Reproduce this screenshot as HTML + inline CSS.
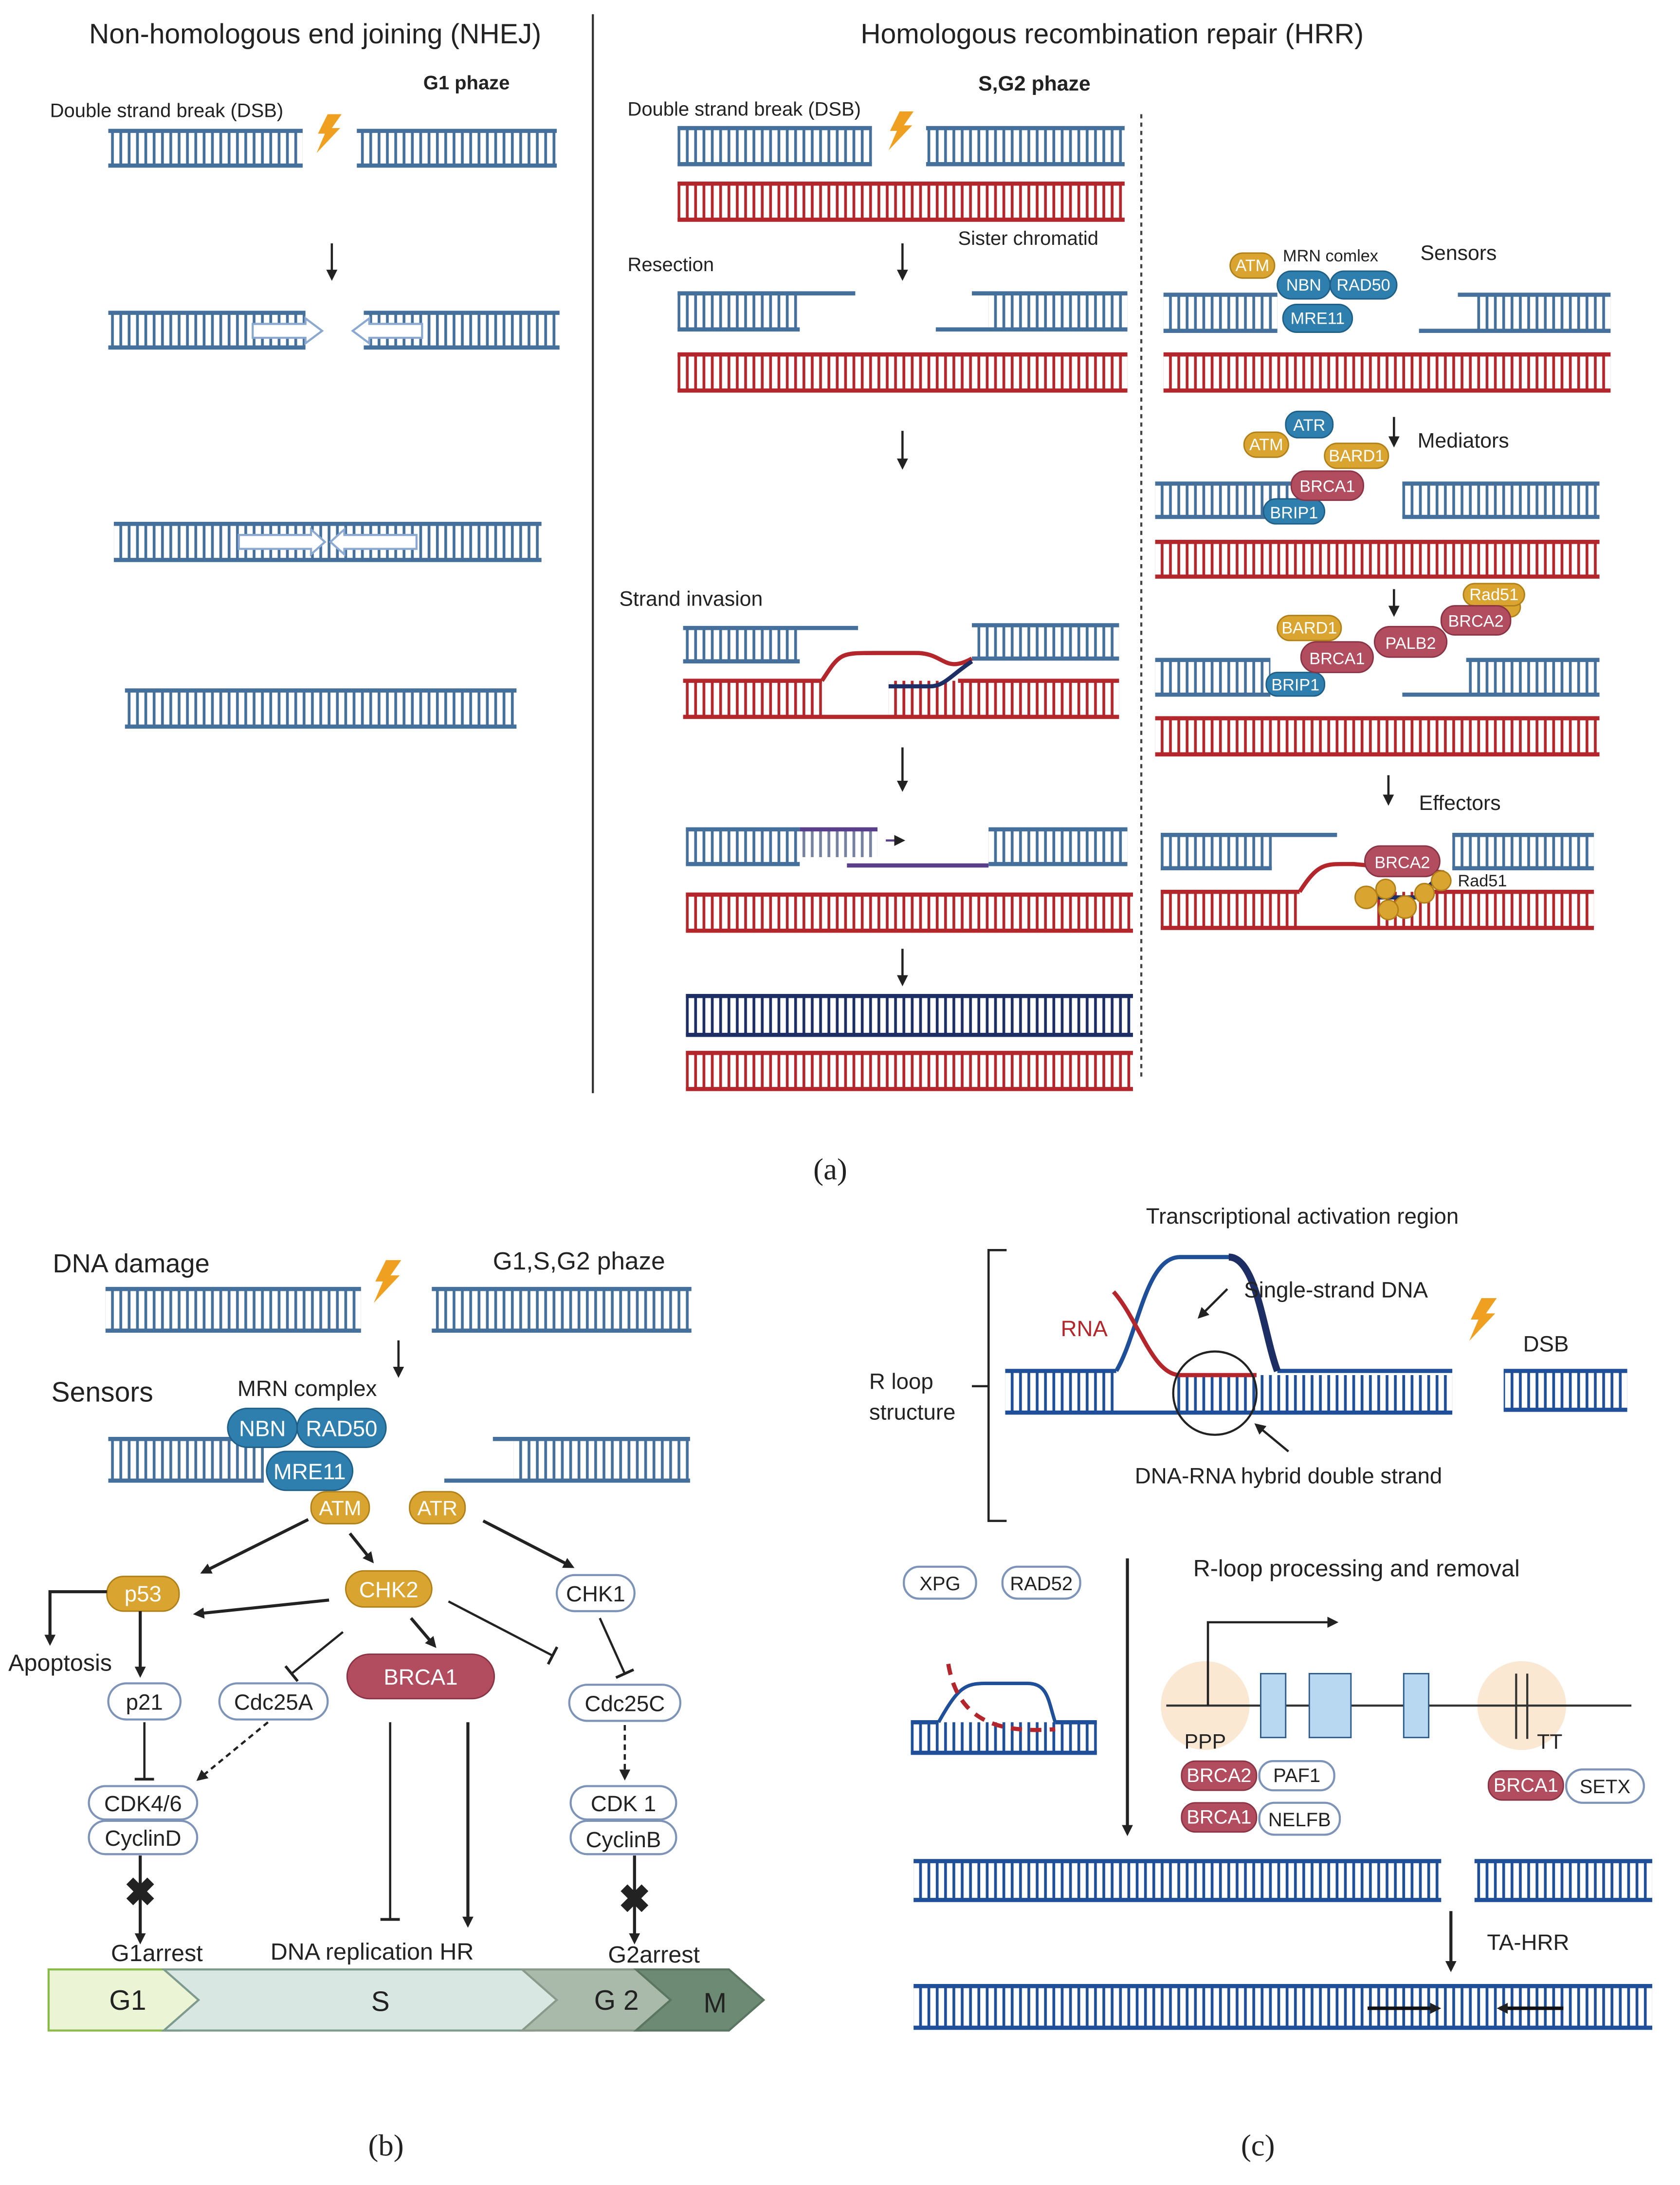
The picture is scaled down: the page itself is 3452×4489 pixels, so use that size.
<!DOCTYPE html>
<html><head><meta charset="utf-8"><style>
html,body{margin:0;padding:0;background:#fff}
svg{display:block}
text{font-family:"Liberation Sans",sans-serif;fill:#222}
.b rect{fill:url(#pb)} .b path{stroke:#46709c;stroke-width:3;fill:none}
.r rect{fill:url(#pr)} .r path{stroke:#b3262b;stroke-width:3;fill:none}
.n rect{fill:url(#pn)} .n path{stroke:#1c2e63;stroke-width:3;fill:none}
.c rect{fill:url(#pc)} .c path{stroke:#1f4f99;stroke-width:3;fill:none}
.ar{stroke:#222;stroke-width:1.6;fill:none;marker-end:url(#ah)}
.ar2{stroke:#222;stroke-width:2.2;fill:none;marker-end:url(#ah)}
.gd rect{fill:#d9a530;stroke:#b07f18} .gd text{fill:#fff}
.bl rect{fill:#2f7fae;stroke:#1e5f88} .bl text{fill:#fff}
.pk rect{fill:#b24c5f;stroke:#8a3344} .pk text{fill:#fff}
.wh rect{fill:#fff;stroke:#7d93b8;stroke-width:1.5} .wh text{fill:#222}
</style></head><body>
<svg width="3452" height="4489" viewBox="0 0 1210 1573" xmlns="http://www.w3.org/2000/svg">
<defs>
<pattern id="pb" width="6" height="200" patternUnits="userSpaceOnUse"><rect x="2" y="0" width="2" height="200" fill="#46709c"/></pattern>
<pattern id="pr" width="6" height="200" patternUnits="userSpaceOnUse"><rect x="2" y="0" width="2" height="200" fill="#b3262b"/></pattern>
<pattern id="pn" width="6" height="200" patternUnits="userSpaceOnUse"><rect x="2" y="0" width="2" height="200" fill="#1c2e63"/></pattern>
<pattern id="pc" width="6" height="200" patternUnits="userSpaceOnUse"><rect x="2" y="0" width="2" height="200" fill="#1f4f99"/></pattern>
<marker id="ah" markerWidth="8" markerHeight="8" refX="6" refY="4" orient="auto" markerUnits="userSpaceOnUse"><path d="M0,0 L8,4 L0,8 z" fill="#222"/></marker>
<marker id="tb" markerWidth="2" markerHeight="14" refX="1" refY="7" orient="auto" markerUnits="userSpaceOnUse"><rect x="0" y="0" width="2" height="14" fill="#222"/></marker>
<g id="bolt"><path d="M8,0 L18,0 L11,10 L17,10 L0,28 L6,14 L1,14 z" fill="#f0a020"/></g>
</defs>

<!-- ===== (a) NHEJ ===== -->
<text x="227" y="31" font-size="20" text-anchor="middle">Non-homologous end joining (NHEJ)</text>
<line x1="427" y1="10" x2="427" y2="787" stroke="#333" stroke-width="1.5"/>
<text x="336" y="64" font-size="14" font-weight="bold" text-anchor="middle">G1 phaze</text>
<text x="36" y="84" font-size="14">Double strand break (DSB)</text>
<g class="b"><rect x="78" y="94" width="140" height="25"/><path d="M78,94h140M78,119h140"/></g>
<g class="b"><rect x="257" y="94" width="144" height="25"/><path d="M257,94h144M257,119h144"/></g>
<use href="#bolt" x="228" y="82"/>
<line class="ar" x1="239" y1="175" x2="239" y2="200"/>
<g class="b"><rect x="78" y="225" width="142" height="25"/><path d="M78,225h142M78,250h142"/></g>
<g class="b"><rect x="262" y="225" width="141" height="25"/><path d="M262,225h141M262,250h141"/></g>
<path d="M182,233h38v-4l12,9l-12,9v-4h-38z" fill="#fff" stroke="#8aa8d0" stroke-width="1.5"/>
<path d="M304,233h-38v-4l-12,9l12,9v-4h38z" fill="#fff" stroke="#8aa8d0" stroke-width="1.5"/>
<g class="b"><rect x="82" y="377" width="308" height="26"/><path d="M82,377h308M82,403h308"/></g>
<path d="M172,385h52v-4l10,9l-10,9v-4h-52z" fill="#fff" stroke="#8aa8d0" stroke-width="1.5"/>
<path d="M300,385h-52v-4l-10,9l10,9v-4h52z" fill="#fff" stroke="#8aa8d0" stroke-width="1.5"/>
<g class="b"><rect x="90" y="497" width="282" height="26"/><path d="M90,497h282M90,523h282"/></g>

<!-- ===== (a) HRR ===== -->
<text x="801" y="31" font-size="20" text-anchor="middle">Homologous recombination repair (HRR)</text>
<text x="745" y="65" font-size="15" font-weight="bold" text-anchor="middle">S,G2 phaze</text>
<text x="452" y="83" font-size="14">Double strand break (DSB)</text>
<g class="b"><rect x="488" y="92" width="140" height="26"/><path d="M488,92h140M488,118h140"/></g>
<g class="b"><rect x="667" y="92" width="143" height="26"/><path d="M667,92h143M667,118h143"/></g>
<use href="#bolt" x="640" y="80"/>
<g class="r"><rect x="488" y="132" width="322" height="26"/><path d="M488,132h322M488,158h322"/></g>
<text x="690" y="176" font-size="14">Sister chromatid</text>
<line class="ar" x1="650" y1="175" x2="650" y2="200"/>
<text x="452" y="195" font-size="14">Resection</text>
<g class="b"><rect x="488" y="211" width="88" height="26"/><path d="M488,211h128M488,237h88"/></g>
<g class="b"><rect x="712" y="211" width="100" height="26"/><path d="M700,211h112M674,237h138"/></g>
<g class="r"><rect x="488" y="255" width="324" height="26"/><path d="M488,255h324M488,281h324"/></g>
<line class="ar" x1="650" y1="310" x2="650" y2="336"/>
<text x="446" y="436" font-size="15">Strand invasion</text>
<g class="b"><rect x="492" y="452" width="84" height="24"/><path d="M492,452h126M492,476h84"/></g>
<g class="b"><rect x="704" y="450" width="102" height="24"/><path d="M700,450h106M700,474h106"/></g>
<g class="r"><rect x="492" y="490" width="100" height="26"/><path d="M492,490h100M492,516h314"/></g>
<g class="r"><rect x="640" y="490" width="166" height="26"/><path d="M690,490h116"/></g>
<path d="M592,490 C605,470 605,470 630,470 L660,470 C680,470 680,485 700,474" stroke="#b3262b" stroke-width="3" fill="none"/>
<path d="M640,494 h30 c10,0 15,-8 30,-18" stroke="#1c2e63" stroke-width="3" fill="none"/>
<line class="ar" x1="650" y1="538" x2="650" y2="568"/>
<g class="b"><rect x="494" y="597" width="82" height="25"/><path d="M494,597h82M494,622h82"/></g>
<g><rect x="576" y="597" width="56" height="20" fill="url(#pn)" opacity="0.6"/><path d="M576,597h56" stroke="#5a3f8a" stroke-width="3"/></g>
<path d="M638,605h12" stroke="#5a3f8a" stroke-width="1.5" marker-end="url(#ah)"/>
<path d="M610,623h102" stroke="#5a3f8a" stroke-width="3"/>
<g class="b"><rect x="712" y="597" width="100" height="25"/><path d="M712,597h100M712,622h100"/></g>
<g class="r"><rect x="494" y="644" width="322" height="26"/><path d="M494,644h322M494,670h322"/></g>
<line class="ar" x1="650" y1="683" x2="650" y2="708"/>
<g class="n"><rect x="494" y="717" width="322" height="28"/><path d="M494,717h322M494,745h322"/></g>
<g class="r"><rect x="494" y="758" width="322" height="26"/><path d="M494,758h322M494,784h322"/></g>
<line x1="822" y1="82" x2="822" y2="775" stroke="#444" stroke-width="1.5" stroke-dasharray="3,3"/>

<!-- right column -->
<text x="1023" y="187" font-size="15">Sensors</text>
<text x="924" y="188" font-size="12">MRN comlex</text>
<g class="b"><rect x="838" y="212" width="82" height="26"/><path d="M838,212h82M838,238h82"/></g>
<g class="b"><rect x="1062" y="212" width="98" height="26"/><path d="M1050,212h110M1022,238h138"/></g>
<g class="r"><rect x="838" y="255" width="322" height="26"/><path d="M838,255h322M838,281h322"/></g>
<g class="gd"><rect x="886" y="182" width="32" height="18" rx="9"/><text x="902" y="195" font-size="12" text-anchor="middle">ATM</text></g>
<g class="bl"><rect x="920" y="195" width="38" height="20" rx="10"/><text x="939" y="209" font-size="12" text-anchor="middle">NBN</text></g>
<g class="bl"><rect x="958" y="195" width="48" height="20" rx="10"/><text x="982" y="209" font-size="12" text-anchor="middle">RAD50</text></g>
<g class="bl"><rect x="924" y="219" width="50" height="20" rx="10"/><text x="949" y="233" font-size="12" text-anchor="middle">MRE11</text></g>

<line class="ar" x1="1004" y1="300" x2="1004" y2="320"/>
<text x="1021" y="322" font-size="15">Mediators</text>
<g class="b"><rect x="832" y="348" width="98" height="24"/><path d="M832,348h98M832,372h98"/></g>
<g class="b"><rect x="1010" y="348" width="142" height="24"/><path d="M1010,348h142M1010,372h142"/></g>
<g class="r"><rect x="832" y="390" width="320" height="25"/><path d="M832,390h320M832,415h320"/></g>
<g class="bl"><rect x="926" y="296" width="34" height="19" rx="9"/><text x="943" y="310" font-size="12" text-anchor="middle">ATR</text></g>
<g class="gd"><rect x="896" y="311" width="32" height="18" rx="9"/><text x="912" y="324" font-size="12" text-anchor="middle">ATM</text></g>
<g class="gd"><rect x="954" y="319" width="46" height="18" rx="9"/><text x="977" y="332" font-size="12" text-anchor="middle">BARD1</text></g>
<g class="bl"><rect x="910" y="359" width="44" height="18" rx="9"/><text x="932" y="373" font-size="12" text-anchor="middle">BRIP1</text></g>
<g class="pk"><rect x="930" y="339" width="52" height="21" rx="10"/><text x="956" y="354" font-size="12" text-anchor="middle">BRCA1</text></g>

<line class="ar" x1="1004" y1="424" x2="1004" y2="442"/>
<g class="b"><rect x="832" y="475" width="83" height="25"/><path d="M832,475h83M832,500h83"/></g>
<g class="b"><rect x="1056" y="475" width="96" height="25"/><path d="M1056,475h96M1010,500h142"/></g>
<g class="r"><rect x="832" y="517" width="320" height="26"/><path d="M832,517h320M832,543h320"/></g>
<circle cx="1088" cy="437" r="7" fill="#d9a530" stroke="#b07f18"/>
<g class="gd"><rect x="1054" y="420" width="44" height="16" rx="8"/><text x="1076" y="432" font-size="12" text-anchor="middle">Rad51</text></g>
<g class="pk"><rect x="1038" y="436" width="50" height="21" rx="10"/><text x="1063" y="451" font-size="12" text-anchor="middle">BRCA2</text></g>
<g class="pk"><rect x="990" y="451" width="52" height="22" rx="11"/><text x="1016" y="467" font-size="12" text-anchor="middle">PALB2</text></g>
<g class="gd"><rect x="920" y="443" width="46" height="18" rx="9"/><text x="943" y="456" font-size="12" text-anchor="middle">BARD1</text></g>
<g class="bl"><rect x="912" y="484" width="42" height="17" rx="8"/><text x="933" y="497" font-size="12" text-anchor="middle">BRIP1</text></g>
<g class="pk"><rect x="937" y="462" width="52" height="22" rx="11"/><text x="963" y="478" font-size="12" text-anchor="middle">BRCA1</text></g>

<line class="ar" x1="1000" y1="558" x2="1000" y2="578"/>
<text x="1022" y="583" font-size="15">Effectors</text>
<g class="b"><rect x="836" y="601" width="80" height="24"/><path d="M836,601h127M836,625h80"/></g>
<g class="b"><rect x="1046" y="601" width="102" height="24"/><path d="M1046,601h102M1046,625h102"/></g>
<g class="r"><rect x="836" y="642" width="100" height="26"/><path d="M836,642h100M836,668h312"/></g>
<g class="r"><rect x="990" y="642" width="158" height="26"/><path d="M1030,642h118"/></g>
<path d="M936,642 C950,620 955,622 975,622 L1040,628" stroke="#b3262b" stroke-width="3" fill="none"/>
<path d="M990,646 h30 l20,-18" stroke="#1c2e63" stroke-width="3" fill="none"/>
<g class="pk"><rect x="983" y="609" width="54" height="22" rx="11"/><text x="1010" y="625" font-size="12" text-anchor="middle">BRCA2</text></g>
<g fill="#d9a530" stroke="#b07f18"><circle cx="984" cy="646" r="8"/><circle cx="998" cy="640" r="7"/><circle cx="1012" cy="653" r="8"/><circle cx="1026" cy="643" r="7"/><circle cx="1038" cy="634" r="7"/><circle cx="1000" cy="655" r="7"/></g>
<text x="1050" y="638" font-size="12">Rad51</text>

<text x="598" y="849" font-size="22" font-family="Liberation Serif" text-anchor="middle" style="font-family:'Liberation Serif',serif">(a)</text>

<!-- ===== (b) ===== -->
<text x="38" y="916" font-size="19">DNA damage</text>
<text x="355" y="914" font-size="18">G1,S,G2 phaze</text>
<g class="b"><rect x="76" y="928" width="184" height="30"/><path d="M76,928h184M76,958h184"/></g>
<g class="b"><rect x="311" y="928" width="187" height="30"/><path d="M311,928h187M311,958h187"/></g>
<use href="#bolt" x="272" y="912" transform="translate(-30,-96) scale(1.1)"/>
<line class="ar" x1="287" y1="965" x2="287" y2="990"/>
<text x="37" y="1009" font-size="20">Sensors</text>
<text x="171" y="1005" font-size="16">MRN complex</text>
<g class="b"><rect x="78" y="1036" width="112" height="30"/><path d="M78,1036h112M78,1066h112"/></g>
<g class="b"><rect x="370" y="1036" width="127" height="30"/><path d="M355,1036h142M320,1066h177"/></g>
<g class="bl"><rect x="164" y="1014" width="50" height="28" rx="14"/><text x="189" y="1034" font-size="16" text-anchor="middle">NBN</text></g>
<g class="bl"><rect x="214" y="1014" width="64" height="28" rx="14"/><text x="246" y="1034" font-size="16" text-anchor="middle">RAD50</text></g>
<g class="bl"><rect x="192" y="1045" width="62" height="28" rx="14"/><text x="223" y="1065" font-size="16" text-anchor="middle">MRE11</text></g>
<g class="gd"><rect x="224" y="1074" width="42" height="23" rx="11"/><text x="245" y="1091" font-size="15" text-anchor="middle">ATM</text></g>
<g class="gd"><rect x="295" y="1074" width="40" height="23" rx="11"/><text x="315" y="1091" font-size="15" text-anchor="middle">ATR</text></g>
<line class="ar2" x1="222" y1="1094" x2="146" y2="1132"/>
<line class="ar2" x1="252" y1="1104" x2="268" y2="1124"/>
<line class="ar2" x1="348" y1="1095" x2="412" y2="1128"/>
<g class="gd"><rect x="77" y="1135" width="52" height="25" rx="12"/><text x="103" y="1153" font-size="16" text-anchor="middle">p53</text></g>
<g class="gd"><rect x="249" y="1131" width="62" height="26" rx="13"/><text x="280" y="1150" font-size="16" text-anchor="middle">CHK2</text></g>
<g class="wh"><rect x="401" y="1134" width="56" height="26" rx="13"/><text x="429" y="1153" font-size="16" text-anchor="middle">CHK1</text></g>
<line class="ar2" x1="237" y1="1152" x2="141" y2="1162"/>
<path class="ar2" d="M77,1146 H36 V1183"/>
<text x="6" y="1203" font-size="17">Apoptosis</text>
<line class="ar2" x1="101" y1="1160" x2="101" y2="1206"/>
<g class="wh"><rect x="78" y="1212" width="52" height="26" rx="13"/><text x="104" y="1231" font-size="16" text-anchor="middle">p21</text></g>
<line x1="247" y1="1175" x2="210" y2="1205" stroke="#222" stroke-width="1.6" marker-end="url(#tb)"/>
<g class="wh"><rect x="158" y="1212" width="78" height="26" rx="13"/><text x="197" y="1231" font-size="16" text-anchor="middle">Cdc25A</text></g>
<line class="ar2" x1="296" y1="1165" x2="313" y2="1185"/>
<g class="pk"><rect x="250" y="1191" width="106" height="32" rx="16"/><text x="303" y="1213" font-size="16" text-anchor="middle">BRCA1</text></g>
<line x1="323" y1="1153" x2="398" y2="1192" stroke="#222" stroke-width="1.6" marker-end="url(#tb)"/>
<line x1="432" y1="1165" x2="450" y2="1205" stroke="#222" stroke-width="1.6" marker-end="url(#tb)"/>
<g class="wh"><rect x="410" y="1213" width="80" height="26" rx="13"/><text x="450" y="1232" font-size="16" text-anchor="middle">Cdc25C</text></g>
<line x1="104" y1="1240" x2="104" y2="1281" stroke="#222" stroke-width="1.6" marker-end="url(#tb)"/>
<line class="ar" x1="193" y1="1240" x2="143" y2="1281" stroke-dasharray="4,3"/>
<g class="wh"><rect x="64" y="1286" width="78" height="24" rx="12"/><text x="103" y="1304" font-size="16" text-anchor="middle">CDK4/6</text></g>
<g class="wh"><rect x="64" y="1311" width="78" height="24" rx="12"/><text x="103" y="1329" font-size="16" text-anchor="middle">CyclinD</text></g>
<line class="ar2" x1="101" y1="1336" x2="101" y2="1398"/>
<text x="101" y="1372" font-size="28" font-weight="bold" text-anchor="middle">✖</text>
<text x="113" y="1412" font-size="17" text-anchor="middle">G1arrest</text>
<line x1="281" y1="1240" x2="281" y2="1382" stroke="#222" stroke-width="1.6" marker-end="url(#tb)"/>
<line class="ar2" x1="337" y1="1240" x2="337" y2="1386"/>
<text x="268" y="1411" font-size="17" text-anchor="middle">DNA  replication HR</text>
<line class="ar" x1="450" y1="1242" x2="450" y2="1280" stroke-dasharray="4,3"/>
<g class="wh"><rect x="411" y="1286" width="76" height="24" rx="12"/><text x="449" y="1304" font-size="16" text-anchor="middle">CDK 1</text></g>
<g class="wh"><rect x="411" y="1311" width="76" height="24" rx="12"/><text x="449" y="1330" font-size="16" text-anchor="middle">CyclinB</text></g>
<line class="ar2" x1="457" y1="1336" x2="457" y2="1398"/>
<text x="457" y="1377" font-size="28" font-weight="bold" text-anchor="middle">✖</text>
<text x="471" y="1413" font-size="17" text-anchor="middle">G2arrest</text>
<path d="M35,1418 H130 L155,1440 L130,1462 H35 Z" fill="#ebf5d6" stroke="#8aba4a" stroke-width="1.5"/>
<path d="M118,1418 H385 L410,1440 L385,1462 H118 L143,1440 Z" fill="#d8e7e1" stroke="#7c9a8e" stroke-width="1.5"/>
<path d="M376,1418 H462 L487,1440 L462,1462 H376 L401,1440 Z" fill="#a9b9aa" stroke="#8a9a8a" stroke-width="1.5"/>
<path d="M458,1418 H525 L550,1440 L525,1462 H458 L483,1440 Z" fill="#6d8a74" stroke="#5a7560" stroke-width="1.5"/>
<text x="92" y="1447" font-size="20" text-anchor="middle">G1</text>
<text x="274" y="1448" font-size="20" text-anchor="middle">S</text>
<text x="444" y="1447" font-size="20" text-anchor="middle">G 2</text>
<text x="515" y="1449" font-size="20" text-anchor="middle">M</text>
<text x="278" y="1552" font-size="22" text-anchor="middle" style="font-family:'Liberation Serif',serif">(b)</text>

<!-- ===== (c) ===== -->
<text x="938" y="881" font-size="16" text-anchor="middle">Transcriptional activation region</text>
<path d="M725,900 H712 V1095 H725" stroke="#222" stroke-width="1.6" fill="none"/>
<line x1="700" y1="998" x2="712" y2="998" stroke="#222" stroke-width="1.6"/>
<text x="626" y="1000" font-size="16">R loop</text>
<text x="626" y="1022" font-size="16">structure</text>
<g class="c"><rect x="724" y="987" width="80" height="30"/><path d="M724,987h80M724,1017h322"/></g>
<g class="c"><rect x="845" y="990" width="201" height="27"/><path d="M920,987h126"/></g>
<path d="M804,987 C820,960 825,905 850,905 L885,905 C905,905 910,960 920,987" stroke="#1f4f99" stroke-width="3" fill="none"/>
<path d="M885,905 C905,905 910,960 920,987" stroke="#1c2e63" stroke-width="5" fill="none"/>
<path d="M802,930 C820,950 830,990 850,990 L905,990" stroke="#b3262b" stroke-width="3" fill="none"/>
<text x="764" y="962" font-size="16" fill="#b3262b" style="fill:#b3262b">RNA</text>
<line class="ar" x1="884" y1="928" x2="864" y2="948"/>
<text x="896" y="934" font-size="16">Single-strand DNA</text>
<circle cx="875" cy="1003" r="30" fill="none" stroke="#222" stroke-width="1.5"/>
<line class="ar" x1="928" y1="1045" x2="905" y2="1026"/>
<text x="928" y="1068" font-size="16" text-anchor="middle">DNA-RNA hybrid double strand</text>
<use href="#bolt" x="1062" y="936" transform="translate(-110,-95) scale(1.1)"/>
<text x="1097" y="973" font-size="16">DSB</text>
<g class="c"><rect x="1083" y="987" width="89" height="28"/><path d="M1083,987h89M1083,1015h89"/></g>
<g class="wh"><rect x="651" y="1128" width="52" height="23" rx="11"/><text x="677" y="1145" font-size="14" text-anchor="middle">XPG</text></g>
<g class="wh"><rect x="722" y="1128" width="56" height="23" rx="11"/><text x="750" y="1145" font-size="14" text-anchor="middle">RAD52</text></g>
<line class="ar2" x1="812" y1="1122" x2="812" y2="1320"/>
<text x="977" y="1135" font-size="17" text-anchor="middle">R-loop processing and removal</text>
<g class="c"><rect x="656" y="1240" width="134" height="22"/><path d="M656,1240h20M760,1240h30M656,1262h134"/></g>
<path d="M676,1240 C690,1215 695,1212 710,1212 L740,1212 C755,1212 755,1225 760,1240" stroke="#1f4f99" stroke-width="2.5" fill="none"/>
<path d="M683,1198 C690,1240 720,1248 760,1245" stroke="#b3262b" stroke-width="3" fill="none" stroke-dasharray="8,6"/>
<circle cx="868" cy="1228" r="32" fill="#fbe8d2"/>
<circle cx="1096" cy="1228" r="32" fill="#fbe8d2"/>
<line x1="840" y1="1228" x2="1175" y2="1228" stroke="#333" stroke-width="1.5"/>
<rect x="908" y="1205" width="18" height="46" fill="#b8d8f2" stroke="#2e5a8a"/>
<rect x="943" y="1205" width="30" height="46" fill="#b8d8f2" stroke="#2e5a8a"/>
<rect x="1011" y="1205" width="18" height="46" fill="#b8d8f2" stroke="#2e5a8a"/>
<path class="ar" d="M870,1228 V1168 H962"/>
<line x1="1092" y1="1205" x2="1092" y2="1252" stroke="#333" stroke-width="1.5"/>
<line x1="1100" y1="1205" x2="1100" y2="1252" stroke="#333" stroke-width="1.5"/>
<text x="853" y="1259" font-size="15">PPP</text>
<text x="1107" y="1259" font-size="15">TT</text>
<g class="pk"><rect x="851" y="1268" width="54" height="21" rx="10"/><text x="878" y="1283" font-size="14" text-anchor="middle">BRCA2</text></g>
<g class="wh"><rect x="907" y="1268" width="54" height="21" rx="10"/><text x="934" y="1283" font-size="14" text-anchor="middle">PAF1</text></g>
<g class="pk"><rect x="851" y="1298" width="54" height="21" rx="10"/><text x="878" y="1313" font-size="14" text-anchor="middle">BRCA1</text></g>
<g class="wh"><rect x="907" y="1298" width="58" height="23" rx="11"/><text x="936" y="1315" font-size="14" text-anchor="middle">NELFB</text></g>
<g class="pk"><rect x="1072" y="1275" width="54" height="21" rx="10"/><text x="1099" y="1290" font-size="14" text-anchor="middle">BRCA1</text></g>
<g class="wh"><rect x="1128" y="1274" width="56" height="24" rx="12"/><text x="1156" y="1291" font-size="14" text-anchor="middle">SETX</text></g>
<g class="c"><rect x="658" y="1340" width="380" height="28"/><path d="M658,1340h380M658,1368h380"/></g>
<g class="c"><rect x="1062" y="1340" width="128" height="28"/><path d="M1062,1340h128M1062,1368h128"/></g>
<line class="ar2" x1="1045" y1="1376" x2="1045" y2="1418"/>
<text x="1071" y="1404" font-size="16">TA-HRR</text>
<g class="c"><rect x="658" y="1430" width="532" height="30"/><path d="M658,1430h532M658,1460h532"/></g>
<line x1="985" y1="1446" x2="1036" y2="1446" stroke="#111" stroke-width="2.5" marker-end="url(#ah)"/>
<line x1="1126" y1="1446" x2="1080" y2="1446" stroke="#111" stroke-width="2.5" marker-end="url(#ah)"/>
<text x="906" y="1552" font-size="22" text-anchor="middle" style="font-family:'Liberation Serif',serif">(c)</text>
</svg>
</body></html>
